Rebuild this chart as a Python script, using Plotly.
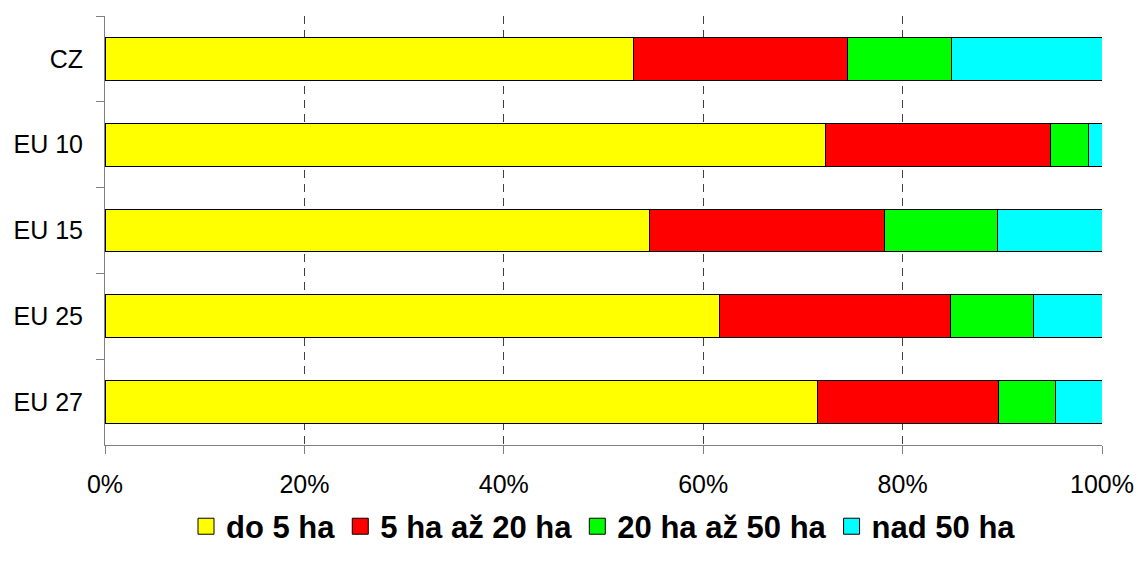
import plotly.graph_objects as go

# Share of farms by size class (% of holdings)
regions = ["CZ", "EU 10", "EU 15", "EU 25", "EU 27"]
size_classes = ["do 5 ha", "5 ha až 20 ha", "20 ha až 50 ha", "nad 50 ha"]
do_5 = [53.0, 72.3, 54.6, 61.6, 71.5]
od_5_do_20 = [21.5, 22.5, 23.6, 23.2, 18.1]
od_20_do_50 = [10.4, 3.8, 11.3, 8.3, 5.7]
nad_50 = [15.1, 1.4, 10.5, 6.9, 4.7]
x_ticks = [0, 20, 40, 60, 80, 100]

series = [do_5, od_5_do_20, od_20_do_50, nad_50]
colors = ["#FFFF00", "#FF0000", "#00FF00", "#00FFFF"]

FONT = "Liberation Sans, Arial, sans-serif"

fig = go.Figure()
for name, vals, col in zip(size_classes, series, colors):
    fig.add_trace(go.Bar(
        y=regions, x=vals, name=name, orientation="h", legendgroup=name,
        showlegend=False,
        marker=dict(color=col, line=dict(color="#000000", width=1)),
    ))
# legend entries with larger square swatches
for name, col in zip(size_classes, colors):
    fig.add_trace(go.Scatter(
        x=[None], y=[None], mode="markers", name=name, legendgroup=name,
        marker=dict(symbol="square", size=20, color=col,
                    line=dict(color="#000000", width=1)),
    ))

fig.update_layout(
    width=1138, height=565,
    barmode="stack", bargap=0.5,
    plot_bgcolor="white", paper_bgcolor="white",
    margin=dict(l=105, r=36, t=16, b=120, autoexpand=False),
    font=dict(family=FONT, size=25, color="#000000"),
    showlegend=True,
    legend=dict(
        orientation="h", x=0.5, xanchor="center",
        yref="container", y=0.068, yanchor="middle",
        font=dict(family=FONT, size=31, color="#000000", weight="bold"),
        traceorder="normal",
    ),
    xaxis=dict(
        range=[0, 100], tickvals=x_ticks, ticktext=[f"{v}%" for v in x_ticks],
        showgrid=True, gridcolor="#404040", gridwidth=1, griddash="8px,6px",
        showline=True, linecolor="#808080", linewidth=1,
        ticks="outside", ticklen=8, tickcolor="#808080",
        zeroline=False, ticklabelstandoff=9, automargin=False,
        tickfont=dict(size=25),
    ),
    yaxis=dict(
        categoryorder="array", categoryarray=regions, autorange="reversed",
        showline=True, linecolor="#808080", linewidth=1,
        ticks="outside", ticklen=8, tickcolor="#808080", tickson="boundaries",
        showgrid=False, zeroline=False, ticklabelstandoff=16, automargin=False,
        tickfont=dict(size=25),
    ),
)

fig.write_html("out.html")
